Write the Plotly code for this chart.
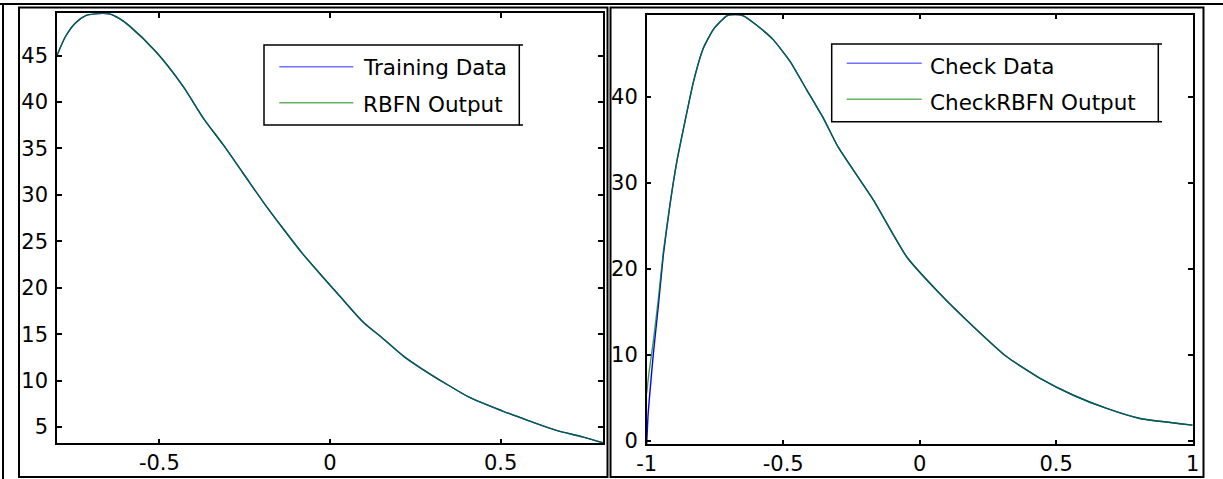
import plotly.graph_objects as go

W, H = 1223, 479

# ---------------- data ----------------
train_x = [-0.8, -0.775, -0.746, -0.716, -0.687, -0.667, -0.647, -0.618, -0.588, -0.51,
           -0.431, -0.372, -0.313, -0.254, -0.195, -0.136, -0.081, -0.027, 0.031, 0.1,
           0.15, 0.218, 0.268, 0.347, 0.406, 0.504, 0.583, 0.661, 0.74, 0.8]
train_y = [45.0, 47.05, 48.5, 49.3, 49.5, 49.55, 49.5, 49.0, 48.2, 45.4,
           41.7, 38.3, 35.4, 32.3, 29.2, 26.3, 23.7, 21.4, 19.0, 16.2,
           14.7, 12.56, 11.3, 9.5, 8.25, 6.75, 5.67, 4.67, 3.94, 3.3]
rbfn_y = [45.0, 47.05, 48.5, 49.3, 49.5, 49.55, 49.5, 49.0, 48.2, 45.4,
          41.7, 38.3, 35.4, 32.3, 29.2, 26.3, 23.7, 21.4, 19.0, 16.2,
          14.7, 12.56, 11.3, 9.5, 8.25, 6.75, 5.67, 4.67, 3.94, 3.3]

check_x = [-1.0, -0.995, -0.99, -0.976, -0.957, -0.939, -0.915, -0.89, -0.86, -0.829,
           -0.793, -0.756, -0.707, -0.676, -0.646, -0.597, -0.536, -0.475, -0.414, -0.353,
           -0.298, -0.17, -0.048, 0.074, 0.196, 0.319, 0.441, 0.563, 0.685, 0.807, 1.0]
check_y = [-0.4, 3.0, 5.0, 10.0, 15.8, 21.6, 27.4, 32.4, 37.1, 41.7,
           45.6, 47.8, 49.4, 49.55, 49.4, 48.3, 46.6, 44.1, 40.8, 37.5,
           34.1, 28.0, 21.4, 17.1, 13.3, 9.77, 7.26, 5.3, 3.77, 2.6, 1.83]
check_rbfn_y = [5.5, 7.0, 8.3, 11.5, 16.6, 22.0, 27.4, 32.4, 37.1, 41.7,
                45.6, 47.8, 49.4, 49.55, 49.4, 48.3, 46.6, 44.1, 40.8, 37.5,
                34.1, 28.0, 21.4, 17.1, 13.3, 9.77, 7.26, 5.3, 3.77, 2.6, 1.83]

left_xticks = [-0.5, 0, 0.5]
left_xtext = ["-0.5", "0", "0.5"]
left_yticks = [5, 10, 15, 20, 25, 30, 35, 40, 45]
left_ytext = ["5", "10", "15", "20", "25", "30", "35", "40", "45"]
right_xticks = [-1, -0.5, 0, 0.5, 1]
right_xtext = ["-1", "-0.5", "0", "0.5", "1"]
right_yticks = [0, 10, 20, 30, 40]
right_ytext = ["0", "10", "20", "30", "40"]

legend_left = ["Training Data", "RBFN Output"]
legend_right = ["Check Data", "CheckRBFN Output"]

BLUE = "#0000ff"
GREEN = "#008000"
FONT = "DejaVu Sans"


def fx(p):
    return p / W


def fy(p):
    return 1 - p / H


fig = go.Figure()
fig.add_trace(go.Scatter(x=train_x, y=train_y, mode="lines", name=legend_left[0],
                         line=dict(color=BLUE, width=1.4, shape="spline", smoothing=0.8),
                         xaxis="x", yaxis="y"))
fig.add_trace(go.Scatter(x=train_x, y=rbfn_y, mode="lines", name=legend_left[1],
                         line=dict(color=GREEN, width=1.4, shape="spline", smoothing=0.8),
                         opacity=0.75, xaxis="x", yaxis="y"))
fig.add_trace(go.Scatter(x=check_x, y=check_y, mode="lines", name=legend_right[0],
                         line=dict(color=BLUE, width=1.4, shape="spline", smoothing=0.5),
                         xaxis="x2", yaxis="y2"))
fig.add_trace(go.Scatter(x=check_x, y=check_rbfn_y, mode="lines", name=legend_right[1],
                         line=dict(color=GREEN, width=1.4, shape="spline", smoothing=0.5),
                         opacity=0.75, xaxis="x2", yaxis="y2"))

axis_common = dict(showline=True, linecolor="black", linewidth=1.5, mirror="ticks",
                   ticks="inside", ticklen=5, tickwidth=1.5, tickcolor="black",
                   showgrid=False, zeroline=False, automargin=False,
                   tickfont=dict(family=FONT, size=21, color="black"))

fig.update_layout(
    template="none",
    width=W, height=H, autosize=False,
    margin=dict(l=0, r=0, t=0, b=0, pad=0, autoexpand=False),
    paper_bgcolor="white", plot_bgcolor="white",
    showlegend=False,
    xaxis=dict(domain=[fx(57), fx(603)], range=[-0.8, 0.8], anchor="y",
               tickvals=left_xticks, ticktext=left_xtext, **axis_common),
    yaxis=dict(domain=[fy(443.3), fy(13.3)], range=[3.25, 49.55], anchor="x",
               tickvals=left_yticks, ticktext=left_ytext, ticklabelstandoff=3, **axis_common),
    xaxis2=dict(domain=[fx(646.7), fx(1192.7)], range=[-1, 1], anchor="y2",
                tickvals=right_xticks, ticktext=right_xtext, **axis_common),
    yaxis2=dict(domain=[fy(444.3), fy(14.5)], range=[-0.4, 49.55], anchor="x2",
                tickvals=right_yticks, ticktext=right_ytext, ticklabelstandoff=3, **axis_common),
)

shapes = []


def line(x0, y0, x1, y1, w=2, color="black", op=1.0):
    shapes.append(dict(type="line", xref="paper", yref="paper",
                       x0=fx(x0), y0=fy(y0), x1=fx(x1), y1=fy(y1), opacity=op,
                       line=dict(color=color, width=w)))


def rect(x0, y0, x1, y1, w=2):
    shapes.append(dict(type="rect", xref="paper", yref="paper",
                       x0=fx(x0), y0=fy(y0), x1=fx(x1), y1=fy(y1),
                       line=dict(color="black", width=w), fillcolor="rgba(0,0,0,0)"))


# table borders
line(0, 4, W, 4, w=2)
line(3, 3, 3, H, w=2)
# picture frames
rect(19, 7.5, 607.5, 477, w=2)
rect(610.5, 7.5, 1203.5, 477, w=2)

# legend boxes
rect(264, 45, 519.3, 125, w=1.5)
line(519.3, 45, 523, 45, w=1.5)
line(519.3, 125, 523, 125, w=1.5)
line(279.3, 66.7, 353.3, 66.7, w=1.5, color=BLUE, op=0.55)
line(279.3, 102.7, 353.3, 102.7, w=1.5, color=GREEN, op=0.6)

rect(831.7, 44, 1158.3, 121.7, w=1.5)
line(1158.3, 44, 1162, 44, w=1.5)
line(1158.3, 121.7, 1162, 121.7, w=1.5)
line(846.7, 63.3, 921.7, 63.3, w=1.5, color=BLUE, op=0.55)
line(846.7, 99.3, 921.7, 99.3, w=1.5, color=GREEN, op=0.6)

fig.update_layout(shapes=shapes)

ann = []
for txt, x, y in [(legend_left[0], 361, 67.7), (legend_left[1], 361, 104.3),
                  (legend_right[0], 928, 66.3), (legend_right[1], 928, 102.7)]:
    ann.append(dict(text=txt, xref="paper", yref="paper", x=fx(x), y=fy(y),
                    xanchor="left", yanchor="middle", showarrow=False,
                    font=dict(family=FONT, size=21.5, color="black")))
fig.update_layout(annotations=ann)

fig.write_html("out.html")
